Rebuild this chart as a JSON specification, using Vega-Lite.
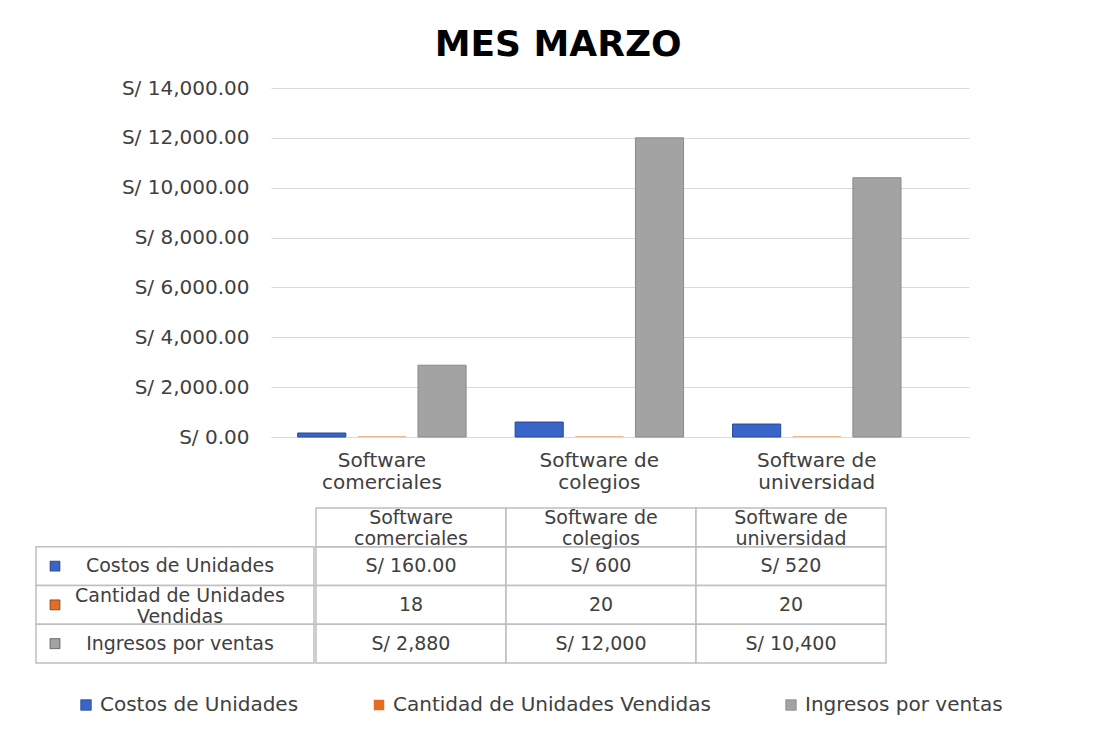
{
  "$schema": "https://vega.github.io/schema/vega-lite/v6.json",
  "background": "white",
  "padding": {"left": 35, "top": 27, "right": 10, "bottom": 10},
  "title": {"text": "MES MARZO", "fontSize": 36, "fontWeight": "bold", "color": "#000000", "anchor": "middle", "offset": 14, "dx": 39},
  "config": {
    "font": "DejaVu Sans",
    "view": {"stroke": null},
    "legend": {"labelLimit": 400}
  },
  "datasets": {
    "datos": [
      {"categoria": "Software comerciales", "serie": "Costos de Unidades", "valor": 160, "etiqueta": "S/ 160.00"},
      {"categoria": "Software de colegios", "serie": "Costos de Unidades", "valor": 600, "etiqueta": "S/ 600"},
      {"categoria": "Software de universidad", "serie": "Costos de Unidades", "valor": 520, "etiqueta": "S/ 520"},
      {"categoria": "Software comerciales", "serie": "Cantidad de Unidades Vendidas", "valor": 18, "etiqueta": "18"},
      {"categoria": "Software de colegios", "serie": "Cantidad de Unidades Vendidas", "valor": 20, "etiqueta": "20"},
      {"categoria": "Software de universidad", "serie": "Cantidad de Unidades Vendidas", "valor": 20, "etiqueta": "20"},
      {"categoria": "Software comerciales", "serie": "Ingresos por ventas", "valor": 2880, "etiqueta": "S/ 2,880"},
      {"categoria": "Software de colegios", "serie": "Ingresos por ventas", "valor": 12000, "etiqueta": "S/ 12,000"},
      {"categoria": "Software de universidad", "serie": "Ingresos por ventas", "valor": 10400, "etiqueta": "S/ 10,400"}
    ]
  },
  "spacing": 15,
  "vconcat": [
    {
      "spacing": 0,
      "hconcat": [
        {
          "width": 1,
          "height": 349,
          "data": {"values": []},
          "mark": {"type": "rect", "opacity": 0},
          "encoding": {}
        },
        {
          "width": 698,
          "height": 349,
          "data": {"name": "datos"},
          "mark": {"type": "bar", "strokeWidth": 1},
          "encoding": {
            "x": {
              "field": "categoria", "type": "nominal",
              "sort": ["Software comerciales", "Software de colegios", "Software de universidad"],
              "scale": {"paddingInner": 0.17, "paddingOuter": 0.19, "align": 0.25},
              "axis": {
                "title": null, "labelAngle": 0, "ticks": false, "domain": true, "domainColor": "#D9D9D9",
                "labelFontSize": 20, "labelColor": "#404040", "labelPadding": 13, "labelLineHeight": 22,
                "labelBaseline": "top",
                "labelExpr": "[slice(datum.label, 0, lastindexof(datum.label, ' ')), slice(datum.label, lastindexof(datum.label, ' ') + 1)]"
              }
            },
            "xOffset": {
              "field": "serie", "type": "nominal",
              "sort": ["Costos de Unidades", "Cantidad de Unidades Vendidas", "Ingresos por ventas"],
              "scale": {"paddingInner": 0.2, "paddingOuter": 0.1}
            },
            "y": {
              "field": "valor", "type": "quantitative",
              "scale": {"domain": [0, 14000]},
              "axis": {
                "title": null, "values": [0, 2000, 4000, 6000, 8000, 10000, 12000, 14000],
                "format": ",.2f", "labelExpr": "'S/ ' + datum.label",
                "ticks": false, "domain": false, "gridColor": "#D9D9D9", "gridWidth": 1.2,
                "labelFontSize": 20, "labelColor": "#404040", "labelPadding": 22, "minExtent": 234
              }
            },
            "color": {
              "field": "serie", "type": "nominal",
              "scale": {
                "domain": ["Costos de Unidades", "Cantidad de Unidades Vendidas", "Ingresos por ventas"],
                "range": ["#3A65C8", "#E46C23", "#A3A3A3"]
              },
              "legend": {
                "orient": "none", "legendX": 40, "legendY": 607, "direction": "horizontal", "title": null,
                "symbolType": "square", "symbolSize": 110, "symbolStrokeColor": "#333333", "symbolStrokeWidth": 0.8,
                "labelFontSize": 20, "labelColor": "#404040",
                "columnPadding": 70
              }
            },
            "stroke": {
              "field": "serie", "type": "nominal",
              "scale": {
                "domain": ["Costos de Unidades", "Cantidad de Unidades Vendidas", "Ingresos por ventas"],
                "range": ["#27479A", "rgba(0,0,0,0)", "#8A8A8A"]
              },
              "legend": null
            }
          }
        }
      ]
    },
    {
      "spacing": 0,
      "hconcat": [
        {
          "width": 278,
          "height": 155,
          "data": {"name": "datos"},
          "transform": [
            {"aggregate": [{"op": "count", "as": "n"}], "groupby": ["serie"]},
            {"calculate": "replace(datum.serie, 'Unidades Vendidas', 'Unidades\\nVendidas')", "as": "fila"}
          ],
          "layer": [
            {
              "mark": {"type": "rect", "fill": "white", "stroke": "#BFBFBF", "strokeWidth": 1.5},
              "encoding": {
                "y": {"field": "serie", "type": "nominal", "axis": null,
                  "scale": {"domain": ["Encabezado", "Costos de Unidades", "Cantidad de Unidades Vendidas", "Ingresos por ventas"], "paddingInner": 0, "paddingOuter": 0}}
              }
            },
            {
              "mark": {"type": "point", "shape": "square", "filled": true, "size": 100, "opacity": 1, "xOffset": -120, "stroke": "#333333", "strokeWidth": 0.6},
              "encoding": {
                "y": {"field": "serie", "type": "nominal", "axis": null},
                "color": {"field": "serie", "type": "nominal", "legend": null}
              }
            },
            {
              "transform": [{"filter": "indexof(datum.fila, '\\n') < 0"}],
              "mark": {"type": "text", "fontSize": 19, "color": "#404040", "dx": 5},
              "encoding": {
                "y": {"field": "serie", "type": "nominal", "axis": null},
                "text": {"field": "fila", "type": "nominal"}
              }
            },
            {
              "transform": [{"filter": "indexof(datum.fila, '\\n') >= 0"}],
              "mark": {"type": "text", "fontSize": 19, "color": "#404040", "lineBreak": "\n", "lineHeight": 21, "dx": 5, "dy": -9},
              "encoding": {
                "y": {"field": "serie", "type": "nominal", "axis": null},
                "text": {"field": "fila", "type": "nominal"}
              }
            }
          ]
        },
        {
          "width": 570,
          "height": 155,
          "data": {"name": "datos"},
          "layer": [
            {
              "mark": {"type": "rect", "fill": "white", "stroke": "#BFBFBF", "strokeWidth": 1.5},
              "encoding": {
                "x": {"field": "categoria", "type": "nominal", "axis": null,
                  "sort": ["Software comerciales", "Software de colegios", "Software de universidad"],
                  "scale": {"paddingInner": 0, "paddingOuter": 0}},
                "y": {"field": "serie", "type": "nominal", "axis": null,
                  "scale": {"domain": ["Encabezado", "Costos de Unidades", "Cantidad de Unidades Vendidas", "Ingresos por ventas"], "paddingInner": 0, "paddingOuter": 0}}
              }
            },
            {
              "mark": {"type": "text", "fontSize": 19, "color": "#404040"},
              "encoding": {
                "x": {"field": "categoria", "type": "nominal", "axis": null,
                  "sort": ["Software comerciales", "Software de colegios", "Software de universidad"]},
                "y": {"field": "serie", "type": "nominal", "axis": null},
                "text": {"field": "etiqueta", "type": "nominal"}
              }
            },
            {
              "transform": [
                {"aggregate": [{"op": "count", "as": "n"}], "groupby": ["categoria"]},
                {"calculate": "'Encabezado'", "as": "serie"},
                {"calculate": "slice(datum.categoria, 0, lastindexof(datum.categoria, ' ')) + '\\n' + slice(datum.categoria, lastindexof(datum.categoria, ' ') + 1)", "as": "encabezado"}
              ],
              "layer": [
                {
                  "mark": {"type": "rect", "fill": "white", "stroke": "#BFBFBF", "strokeWidth": 1.5},
                  "encoding": {
                    "x": {"field": "categoria", "type": "nominal", "axis": null,
                      "sort": ["Software comerciales", "Software de colegios", "Software de universidad"]},
                    "y": {"field": "serie", "type": "nominal", "axis": null}
                  }
                },
                {
                  "mark": {"type": "text", "fontSize": 19, "color": "#404040", "lineBreak": "\n", "lineHeight": 21, "dy": -9},
                  "encoding": {
                    "x": {"field": "categoria", "type": "nominal", "axis": null,
                      "sort": ["Software comerciales", "Software de colegios", "Software de universidad"]},
                    "y": {"field": "serie", "type": "nominal", "axis": null},
                    "text": {"field": "encabezado", "type": "nominal"}
                  }
                }
              ]
            }
          ]
        }
      ]
    }
  ]
}
